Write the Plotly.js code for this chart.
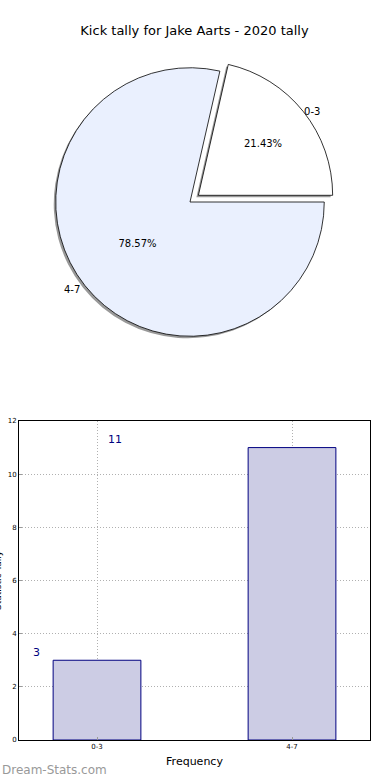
<!DOCTYPE html>
<html>
<head>
<meta charset="utf-8">
<script src="https://cdn.plot.ly/plotly-3.0.1.min.js"></script>
<style>html,body{margin:0;padding:0;background:#fff;}#chart{width:390px;height:780px;}</style>
</head>
<body>
<div id="chart"></div>
<script>
var categories = ["0-3", "4-7"];
var tallies = [3, 11];
var chartTitle = "Kick tally for Jake Aarts - 2020 tally";
var xTitle = "Frequency";
var yTitle = "Statistic Tally";
var watermark = "Dream-Stats.com";

var F = "DejaVu Sans, sans-serif";
var W = 390, H = 780, ML = 19, MR = 20;
var PW = W - ML - MR;
function px(x) { return (x - ML) / PW; }
function py(y) { return (H - y) / H; }

var total = tallies.reduce(function (a, b) { return a + b; }, 0);
var rot = 90 - 360 * tallies[0] / total;

// pie geometry
var cx = 190, cy = 202, half = 145;
var pulls = [0.08, 0];
var dom = {x: [px(cx - half), px(cx + half)], y: [py(cy + half), py(cy - half)]};
var sdom = {x: [px(cx - 2 - half), px(cx - 2 + half)], y: [py(cy + 2 + half), py(cy + 2 - half)]};

var shadow = {
  type: "pie", labels: categories, values: tallies, sort: false,
  direction: "counterclockwise", rotation: rot, pull: pulls,
  domain: sdom,
  marker: {colors: ["rgba(110,110,110,0.7)", "rgba(110,110,110,0.7)"], line: {width: 0}},
  textinfo: "label", textposition: "outside",
  textfont: {family: F, size: 10, color: "#000"},
  hoverinfo: "skip", showlegend: false
};
var pie = {
  type: "pie", labels: categories, values: tallies, sort: false,
  direction: "counterclockwise", rotation: rot, pull: pulls,
  domain: dom,
  marker: {colors: ["#ffffff", "#eaf0fe"], line: {color: "#000", width: 0.8}},
  texttemplate: "%{percent:.2%}", textposition: "inside",
  insidetextorientation: "horizontal",
  textfont: {family: F, size: 10, color: "#000"},
  showlegend: false
};
var bar = {
  type: "bar", x: categories, y: tallies, width: 0.45,
  marker: {color: "rgb(204,204,228)", line: {color: "#000080", width: 1}},
  xaxis: "x", yaxis: "y", showlegend: false, hoverinfo: "x+y"
};

var labelOffsets = [[-0.31, 0.3], [-0.91, 0.3]];
var anns = tallies.map(function (v, i) {
  return {x: i + labelOffsets[i][0], y: v + labelOffsets[i][1], xref: "x", yref: "y",
    text: String(v), showarrow: false, font: {family: F, size: 11, color: "#000080"}};
});
anns.push({x: px(0), y: py(770), xref: "paper", yref: "paper", xanchor: "left", yanchor: "middle",
  text: watermark, showarrow: false, font: {family: F, size: 12, color: "#999999"}});
// y-axis title, mostly cut off by the left edge as in the original
anns.push({x: px(5), y: py(580), xref: "paper", yref: "paper", xanchor: "right", yanchor: "middle",
  textangle: -90, text: yTitle, showarrow: false, font: {family: F, size: 9, color: "#000"}});

var layout = {
  width: W, height: H,
  margin: {l: ML, r: MR, t: 0, b: 0, autoexpand: false},
  paper_bgcolor: "#fff", plot_bgcolor: "#fff",
  font: {family: F, size: 10, color: "#000"},
  title: {text: chartTitle, x: 0.5, xref: "paper", y: py(30), yanchor: "middle", font: {family: F, size: 13, color: "#000"}},
  xaxis: {
    domain: [0, 1], anchor: "y", type: "category", range: [-0.4, 1.4],
    showgrid: true, gridcolor: "#b0b0b0", griddash: "1px,2px", gridwidth: 1,
    showline: true, linecolor: "#000", linewidth: 1, mirror: true,
    ticks: "inside", ticklen: 3, tickcolor: "#999",
    tickfont: {family: F, size: 7, color: "#000"},
    title: {text: xTitle, font: {family: F, size: 11, color: "#000"}, standoff: 6},
    zeroline: false, automargin: false, fixedrange: true
  },
  yaxis: {
    domain: [py(740), py(421)], anchor: "x", range: [0, 12], dtick: 2,
    showgrid: true, gridcolor: "#b0b0b0", griddash: "1px,2px", gridwidth: 1,
    showline: true, linecolor: "#000", linewidth: 1, mirror: true,
    ticks: "inside", ticklen: 3, tickcolor: "#999",
    tickfont: {family: F, size: 7, color: "#000"},
    zeroline: false, automargin: false, fixedrange: true
  },
  annotations: anns
};

Plotly.newPlot("chart", [shadow, pie, bar], layout, {displayModeBar: false, staticPlot: true});
</script>
</body>
</html>
